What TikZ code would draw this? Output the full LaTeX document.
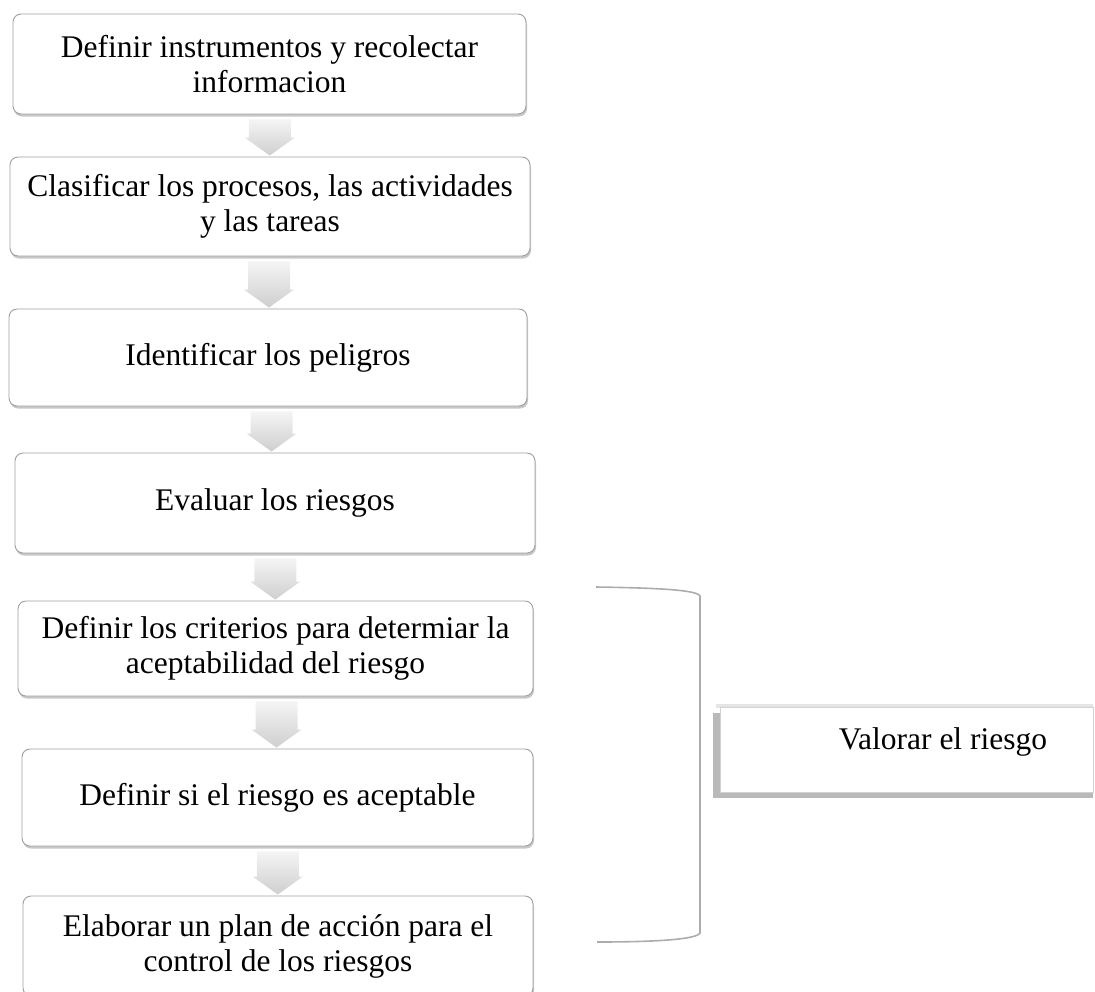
\documentclass[tikz,border=0pt]{standalone}
\usepackage{fontspec}
\setmainfont{Liberation Serif}
\usetikzlibrary{shadows,calc}
\tikzset{
  stepbox/.style={draw=gray!75, line width=0.9pt, rounded corners=8pt, fill=white,
    align=center, font=\fontsize{31.5}{35}\selectfont, inner sep=0pt,
    drop shadow={shadow xshift=1pt, shadow yshift=-2.5pt, fill=gray!80, opacity=0.55}},
  arrowfill/.style={top color=gray!8, bottom color=gray!38, draw=none},
  bracketline/.style={draw=gray!65, line width=1.6pt},
}
\newcommand\blockarrow[2]{%
  \path let \p1=(#1.south), \p2=(#2.north), \n1={(\x1+\x2)/2} in
    [arrowfill] (\n1-21pt,\y1-5pt) -- (\n1+21pt,\y1-5pt) -- (\n1+21pt,\y2+19pt)
    -- (\n1+25pt,\y2+19pt) -- (\n1,\y2+1pt) -- (\n1-25pt,\y2+19pt)
    -- (\n1-21pt,\y2+19pt) -- cycle;}
\begin{document}
\begin{tikzpicture}[x=1pt,y=-1pt]
\useasboundingbox (0,0) rectangle (1095,991);
\node[stepbox, minimum width=513, minimum height=100] (b1) at (269.5,64)
  {Definir instrumentos y recolectar\\informacion};
\node[stepbox, minimum width=520, minimum height=99] (b2) at (270,206.5)
  {Clasificar los procesos, las actividades\\y las tareas};
\node[stepbox, minimum width=518, minimum height=97] (b3) at (268,357.5)
  {Identificar los peligros};
\node[stepbox, minimum width=520, minimum height=100] (b4) at (275,503)
  {Evaluar los riesgos};
\node[stepbox, minimum width=515, minimum height=95] (b5) at (275.5,648.5)
  {Definir los criterios para determiar la\\aceptabilidad del riesgo};
\node[stepbox, minimum width=511, minimum height=97] (b6) at (277.5,797.5)
  {Definir si el riesgo es aceptable};
\node[stepbox, minimum width=510, minimum height=100] (b7) at (278,946)
  {Elaborar un plan de acción para el\\control de los riesgos};
\blockarrow{b1}{b2}
\blockarrow{b2}{b3}
\blockarrow{b3}{b4}
\blockarrow{b4}{b5}
\blockarrow{b5}{b6}
\blockarrow{b6}{b7}
% bracket
\coordinate (bt) at (596,587);
\coordinate (bb) at (597,942);
\draw[bracketline] (bt) .. controls (660,588) and (697,590) .. (700,596)
  -- (700,933) .. controls (697,939) and (660,942) .. (bb);
% Valorar box with shadow
\fill[gray!55] (713,713) rectangle (1093,798);
\fill[gray!20] (716,704) rectangle (1093,708);
\node[draw=gray!35, line width=0.8pt, fill=white, minimum width=373, minimum height=85,
  inner sep=0pt, anchor=north west] (val) at (720,707) {};
\node[font=\fontsize{31.5}{35}\selectfont, inner sep=0pt] (valt) at (943,742) {Valorar el riesgo};
\end{tikzpicture}
\end{document}
